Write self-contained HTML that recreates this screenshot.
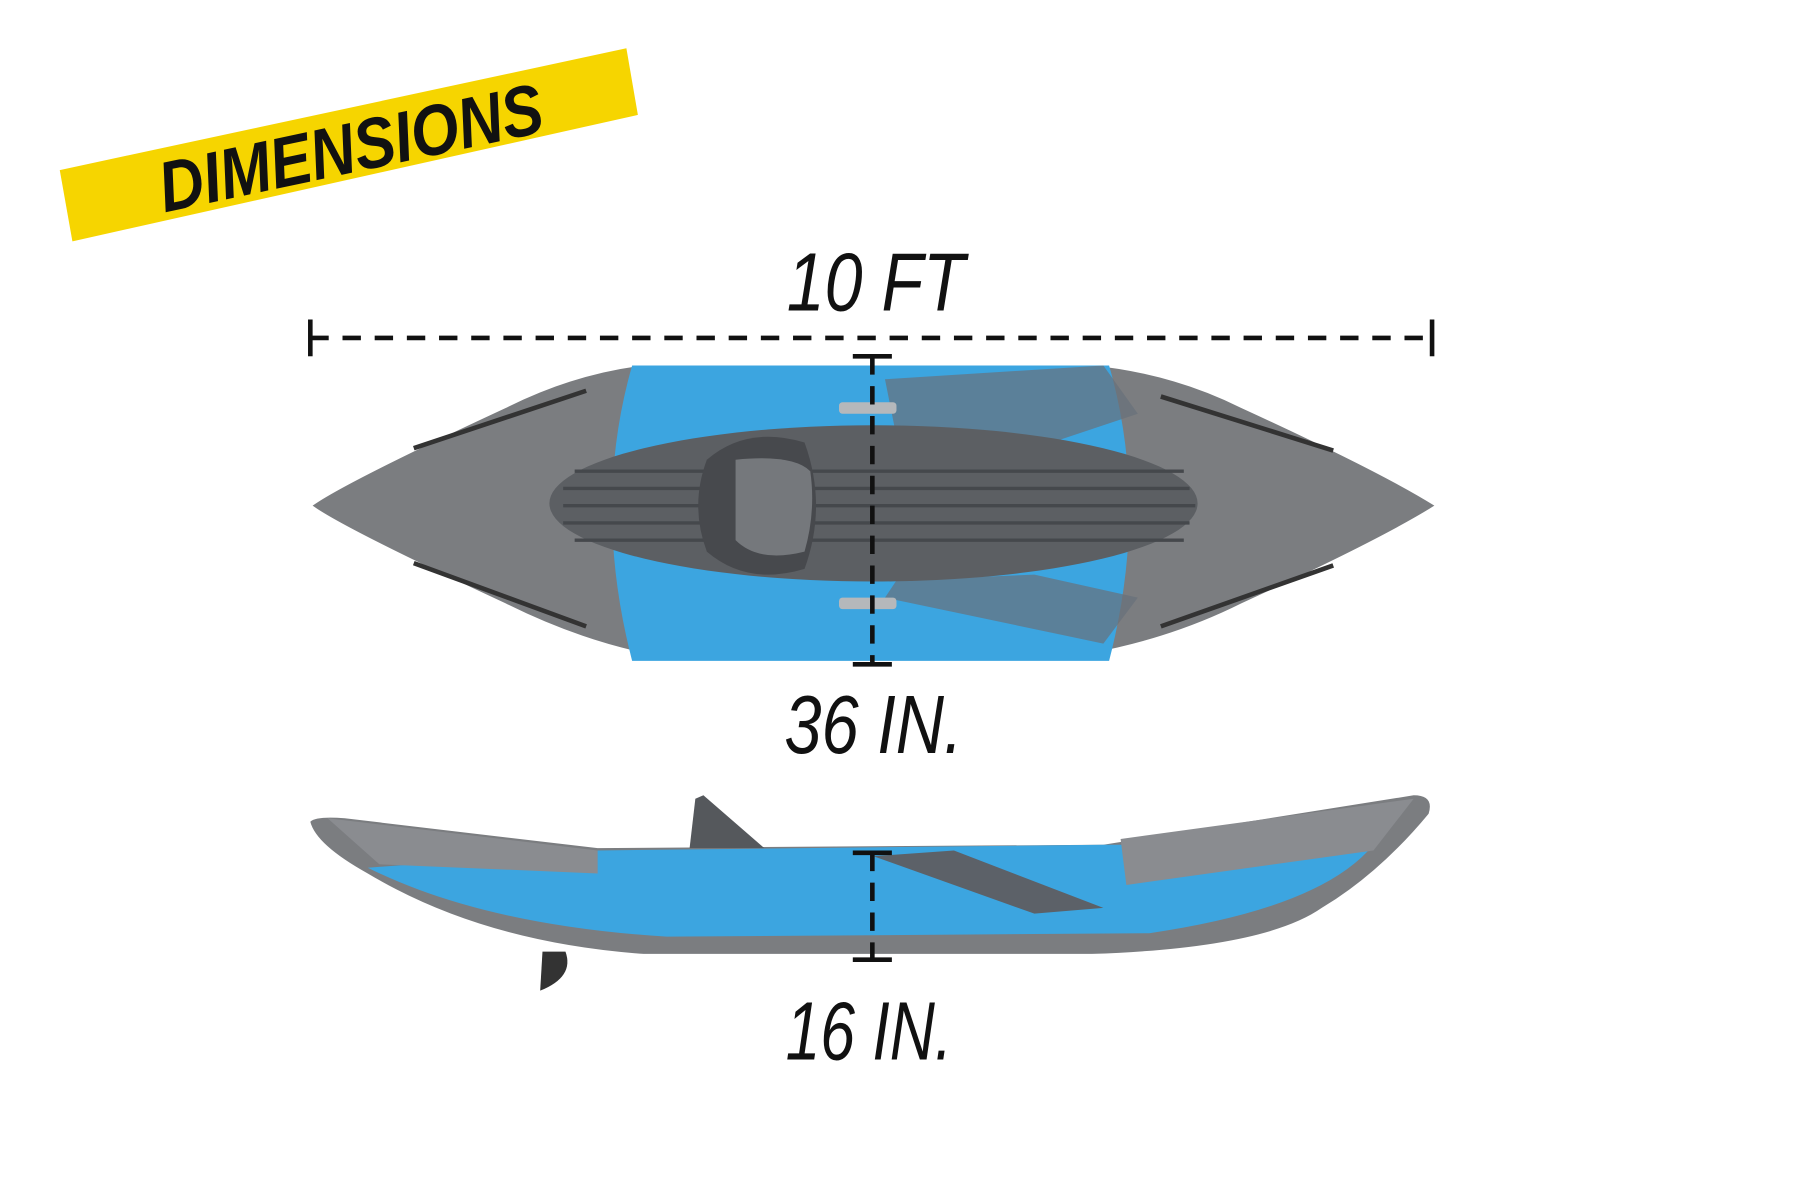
<!DOCTYPE html>
<html><head><meta charset="utf-8"><style>
html,body{margin:0;padding:0;background:#fff;}
svg{display:block}
text{font-family:"Liberation Sans",sans-serif;font-style:italic;fill:#111;}
</style></head><body>
<svg width="1801" height="1201" viewBox="0 0 1567 1045" preserveAspectRatio="none" xmlns="http://www.w3.org/2000/svg">
<rect width="1567" height="1045" fill="#fff"/>
<polygon points="52,148 545,42 555,100 63,210" fill="#f6d500"/>
<text x="305" y="150" font-size="62" text-anchor="middle" transform="rotate(-12 305 128)" font-weight="bold" textLength="340" lengthAdjust="spacingAndGlyphs">DIMENSIONS</text>
<text x="762" y="270" font-size="72" text-anchor="middle" textLength="155" lengthAdjust="spacingAndGlyphs">10 FT</text>
<line x1="270" y1="294" x2="1246" y2="294" stroke="#111" stroke-width="4" stroke-dasharray="16,12"/>
<line x1="270" y1="278" x2="270" y2="310" stroke="#111" stroke-width="4"/>
<line x1="1246" y1="278" x2="1246" y2="310" stroke="#111" stroke-width="4"/>
<path d="M272,440 Q300,420 440,355 Q500,325 560,318 L950,318 Q1020,325 1080,355 Q1200,410 1248,440 Q1200,470 1080,525 Q1020,555 950,568 L560,568 Q500,555 440,525 Q300,460 272,440 Z" fill="#7b7d80"/>
<path d="M550,318 L965,318 Q1000,440 965,575 L550,575 Q515,440 550,318Z" fill="#3ca5e0"/>
<path d="M770,330 L960,318 L990,360 L900,390 L780,380Z" fill="#68717a" opacity="0.7"/>
<path d="M770,520 L960,560 L990,520 L900,500 L780,505Z" fill="#68717a" opacity="0.7"/>
<ellipse cx="760" cy="438" rx="282" ry="68" fill="#5c5f63"/>
<g stroke="#45484c" stroke-width="3">
<line x1="500" y1="410" x2="1030" y2="410"/><line x1="490" y1="425" x2="1035" y2="425"/><line x1="490" y1="440" x2="1040" y2="440"/><line x1="490" y1="455" x2="1035" y2="455"/><line x1="500" y1="470" x2="1030" y2="470"/></g>
<path d="M615,400 Q650,370 700,385 Q720,440 700,495 Q650,510 615,480 Q600,440 615,400Z" fill="#47494d"/>
<path d="M640,400 Q690,395 705,410 Q710,445 700,480 Q660,490 640,470 Z" fill="#75787c"/>
<line x1="360" y1="390" x2="510" y2="340" stroke="#333" stroke-width="4"/>
<line x1="360" y1="490" x2="510" y2="545" stroke="#333" stroke-width="4"/>
<line x1="1010" y1="345" x2="1160" y2="392" stroke="#333" stroke-width="4"/>
<line x1="1010" y1="545" x2="1160" y2="492" stroke="#333" stroke-width="4"/>
<rect x="730" y="350" width="50" height="10" rx="3" fill="#b5b8bb"/>
<rect x="730" y="520" width="50" height="10" rx="3" fill="#b5b8bb"/>
<line x1="759" y1="310" x2="759" y2="578" stroke="#111" stroke-width="4" stroke-dasharray="16,10"/>
<line x1="742" y1="310" x2="776" y2="310" stroke="#111" stroke-width="4"/>
<line x1="742" y1="578" x2="776" y2="578" stroke="#111" stroke-width="4"/>
<text x="760" y="655" font-size="72" text-anchor="middle" textLength="155" lengthAdjust="spacingAndGlyphs">36 IN.</text>
<!-- side kayak -->
<path d="M270,715 Q275,710 300,712 L520,738 L960,735 L1230,692 Q1248,692 1243,708 Q1200,760 1150,790 Q1100,825 950,830 L560,830 Q420,820 320,760 Q275,735 270,715Z" fill="#7b7d80"/>
<path d="M320,755 L520,740 L960,735 L1195,735 Q1150,790 1000,812 L580,815 Q420,805 320,755Z" fill="#3ca5e0"/>
<path d="M760,745 L900,795 L960,790 L830,740Z" fill="#5c6168"/>
<path d="M285,712 L520,740 L520,760 L330,752Z" fill="#8a8c90"/>
<path d="M975,730 L1230,695 L1195,740 L980,770Z" fill="#8a8c90"/>
<path d="M605,695 L612,692 L665,738 L600,738Z" fill="#55585c"/>
<path d="M472,828 L492,828 Q500,850 470,862 Z" fill="#333"/>
<line x1="759" y1="742" x2="759" y2="835" stroke="#111" stroke-width="4" stroke-dasharray="16,10"/>
<line x1="742" y1="742" x2="776" y2="742" stroke="#111" stroke-width="4"/>
<line x1="742" y1="835" x2="776" y2="835" stroke="#111" stroke-width="4"/>
<text x="756" y="922" font-size="72" text-anchor="middle" textLength="145" lengthAdjust="spacingAndGlyphs">16 IN.</text>
</svg>
</body></html>
